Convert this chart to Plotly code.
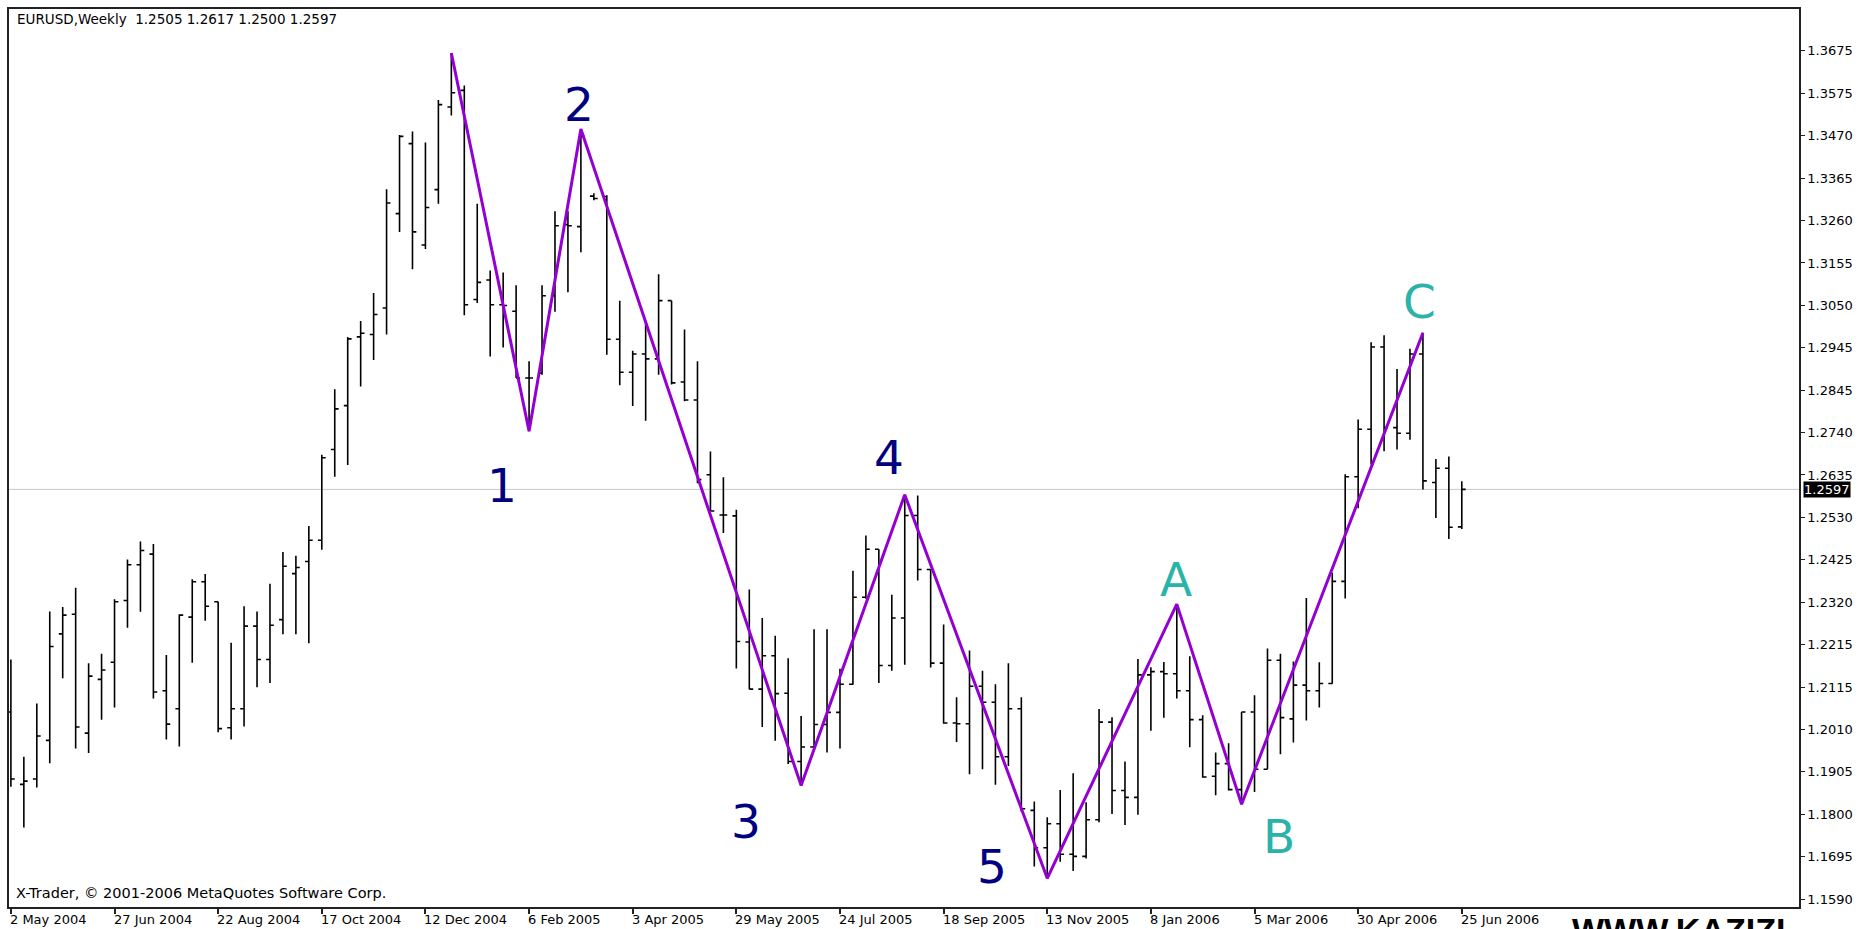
import numpy as np
import pandas as pd
import plotly.graph_objects as go

# ---------------- data ----------------
week_start = "2004-05-02"

opens = [1.2050, 1.1872, 1.1885, 1.1980, 1.2242, 1.2290, 1.1998, 1.2130, 1.2172, 1.2324,
         1.2412, 1.2438, 1.2102, 1.2058, 1.2283, 1.2370, 1.2321, 1.2011, 1.2058, 1.2261,
         1.2179, 1.2277, 1.2390, 1.2420, 1.2472, 1.2695, 1.2803, 1.2972, 1.2978, 1.3043,
         1.3275, 1.3447, 1.3198, 1.3334, 1.3537, 1.3578, 1.3064, 1.3112, 1.3051, 1.3035,
         1.2871, 1.2883, 1.3073, 1.3248, 1.3243, 1.3318, 1.3317, 1.2966, 1.2885, 1.2930,
         1.2918, 1.3061, 1.2861, 1.2817, 1.2633, 1.2534, 1.2532, 1.2222, 1.2106, 1.2188,
         1.2096, 1.1928, 1.1964, 1.2019, 1.2049, 1.2118, 1.2332, 1.2450, 1.2164, 1.2281,
         1.2533, 1.2400, 1.2170, 1.2023, 1.2021, 1.2113, 1.2074, 1.1940, 1.2058, 1.1808,
         1.1716, 1.1775, 1.1700, 1.1695, 1.1785, 1.2025, 1.1857, 1.1840, 1.2141, 1.2149,
         1.2144, 1.2102, 1.2031, 1.1892, 1.1923, 1.1859, 1.2050, 1.1909, 1.2177, 1.2033,
         1.2116, 1.2102, 1.2120, 1.2371, 1.2628, 1.2745, 1.2947, 1.2749, 1.2735, 1.2930,
         1.2614, 1.2649, 1.2505]
highs = [1.2179, 1.1940, 1.2071, 1.2297, 1.2308, 1.2355, 1.2170, 1.2193, 1.2327, 1.2425,
         1.2469, 1.2463, 1.2190, 1.2290, 1.2376, 1.2389, 1.2321, 1.2220, 1.2310, 1.2297,
         1.2365, 1.2443, 1.2434, 1.2507, 1.2682, 1.2843, 1.2972, 1.3011, 1.3080, 1.3335,
         1.3468, 1.3477, 1.3450, 1.3554, 1.3670, 1.3590, 1.3299, 1.3135, 1.3130, 1.3099,
         1.2912, 1.3099, 1.3281, 1.3281, 1.3483, 1.3325, 1.3320, 1.3061, 1.2938, 1.3010,
         1.3126, 1.3061, 1.2990, 1.2912, 1.2690, 1.2627, 1.2547, 1.2351, 1.2281, 1.2237,
         1.2182, 1.2040, 1.2253, 1.2253, 1.2156, 1.2397, 1.2484, 1.2450, 1.2338, 1.2584,
         1.2582, 1.2401, 1.2265, 1.2086, 1.2201, 1.2151, 1.2118, 1.2170, 1.2086, 1.1830,
         1.1791, 1.1858, 1.1899, 1.1828, 1.2057, 1.2037, 1.1928, 1.2180, 1.2160, 1.2173,
         1.2315, 1.2187, 1.2042, 1.1950, 1.1973, 1.2050, 1.2091, 1.2206, 1.2193, 1.2174,
         1.2330, 1.2172, 1.2392, 1.2634, 1.2769, 1.2959, 1.2976, 1.2893, 1.2943, 1.2982,
         1.2672, 1.2678, 1.2617]
lows = [1.1866, 1.1766, 1.1864, 1.1924, 1.2133, 1.1960, 1.1949, 1.2031, 1.2061, 1.2257,
        1.2296, 1.2083, 1.1982, 1.1965, 1.2171, 1.2274, 1.2000, 1.1982, 1.2014, 1.2111,
        1.2121, 1.2241, 1.2241, 1.2219, 1.2449, 1.2628, 1.2657, 1.2850, 1.2915, 1.2978,
        1.3230, 1.3138, 1.3188, 1.3299, 1.3516, 1.3025, 1.3055, 1.2924, 1.2946, 1.2871,
        1.2740, 1.2879, 1.3034, 1.3082, 1.3180, 1.3308, 1.2928, 1.2853, 1.2802, 1.2766,
        1.2879, 1.2855, 1.2814, 1.2612, 1.2544, 1.2490, 1.2157, 1.2106, 1.2013, 1.1979,
        1.1922, 1.1869, 1.1962, 1.1950, 1.1960, 1.2117, 1.2328, 1.2121, 1.2151, 1.2166,
        1.2373, 1.2159, 1.2021, 1.1976, 1.1897, 1.1909, 1.1871, 1.1917, 1.1805, 1.1670,
        1.1641, 1.1682, 1.1659, 1.1690, 1.1779, 1.1799, 1.1772, 1.1797, 1.2004, 1.2036,
        1.2083, 1.1963, 1.1888, 1.1845, 1.1857, 1.1823, 1.1853, 1.1909, 1.1946, 1.1975,
        1.2029, 1.2061, 1.2119, 1.2329, 1.2551, 1.2658, 1.2691, 1.2695, 1.2719, 1.2597,
        1.2527, 1.2475, 1.2500]
closes = [1.1885, 1.1880, 1.1991, 1.2211, 1.2288, 1.2013, 1.2138, 1.2153, 1.2321, 1.2412,
          1.2447, 1.2099, 1.2020, 1.2288, 1.2370, 1.2310, 1.2009, 1.2058, 1.2261, 1.2179,
          1.2263, 1.2408, 1.2405, 1.2472, 1.2675, 1.2795, 1.2967, 1.2981, 1.3027, 1.3301,
          1.3465, 1.3230, 1.3290, 1.3543, 1.3572, 1.3051, 1.3106, 1.3051, 1.3049, 1.2871,
          1.2871, 1.3073, 1.3245, 1.3245, 1.3465, 1.3312, 1.2966, 1.2885, 1.2930, 1.2918,
          1.3061, 1.2859, 1.2817, 1.2621, 1.2544, 1.2534, 1.2223, 1.2106, 1.2188, 1.2095,
          1.1928, 1.1964, 1.2019, 1.2049, 1.2118, 1.2332, 1.2450, 1.2164, 1.2281, 1.2533,
          1.2400, 1.2170, 1.2023, 1.2021, 1.2113, 1.2074, 1.1940, 1.2058, 1.1812, 1.1716,
          1.1775, 1.1700, 1.1695, 1.1785, 1.2025, 1.1857, 1.1840, 1.2141, 1.2149, 1.2144,
          1.2102, 1.2031, 1.1890, 1.1923, 1.1859, 1.2050, 1.1909, 1.2177, 1.2036, 1.2116,
          1.2102, 1.2120, 1.2371, 1.2628, 1.2745, 1.2947, 1.2749, 1.2735, 1.2930, 1.2618,
          1.2649, 1.2504, 1.2597]

# zigzag pivots: bar index and whether it is a high (H) or low (L)
zz_index = [34, 40, 44, 61, 69, 80, 90, 95, 109]
zz_kind = ["H", "L", "H", "L", "H", "L", "H", "L", "H"]
wave_labels = ["", "1", "2", "3", "4", "5", "A", "B", "C"]

x_tick_labels = ["2 May 2004", "27 Jun 2004", "22 Aug 2004", "17 Oct 2004", "12 Dec 2004",
                 "6 Feb 2005", "3 Apr 2005", "29 May 2005", "24 Jul 2005", "18 Sep 2005",
                 "13 Nov 2005", "8 Jan 2006", "5 Mar 2006", "30 Apr 2006", "25 Jun 2006"]
y_tick_labels = ["1.3675", "1.3575", "1.3470", "1.3365", "1.3260", "1.3155", "1.3050",
                 "1.2945", "1.2845", "1.2740", "1.2635", "1.2530", "1.2425", "1.2320",
                 "1.2215", "1.2115", "1.2010", "1.1905", "1.1800", "1.1695", "1.1590"]

symbol_title = "EURUSD,Weekly"
copyright_text = "X-Trader, © 2001-2006 MetaQuotes Software Corp."
watermark_text = "WWW.KAZIZI"

# ---------------- figure ----------------
dates = pd.date_range(week_start, periods=len(opens), freq="7D")
zz_dates = [dates[i] for i in zz_index]
zz_vals = [highs[i] if k == "H" else lows[i] for i, k in zip(zz_index, zz_kind)]

FONT = "DejaVu Sans"
AX = 13
fig = go.Figure()

fig.add_trace(go.Ohlc(
    x=dates, open=opens, high=highs, low=lows, close=closes,
    increasing=dict(line=dict(color="black", width=1.6)),
    decreasing=dict(line=dict(color="black", width=1.6)),
    tickwidth=0.3, showlegend=False, hoverinfo="skip"))

fig.add_trace(go.Scatter(
    x=zz_dates, y=zz_vals, mode="lines",
    line=dict(color="#9400D3", width=3), showlegend=False, hoverinfo="skip"))

# current price line
last_close = closes[-1]
fig.add_shape(type="line", xref="paper", x0=0, x1=1, yref="y", y0=last_close, y1=last_close,
              line=dict(color="#C8C8C8", width=1), layer="below")

annotations = []
# price box
annotations.append(dict(xref="paper", x=1, yref="y", y=last_close, xanchor="left",
                        yanchor="middle", xshift=4, text=f"{last_close:.4f}", showarrow=False,
                        bgcolor="black", borderpad=0,
                        font=dict(family=FONT, size=AX, color="white")))
# header
annotations.append(dict(xref="paper", x=0, yref="paper", y=1, xanchor="left", yanchor="middle",
                        xshift=6, yshift=-10, showarrow=False,
                        text=f"{symbol_title}\u00a0\u00a0{opens[-1]:.4f} {highs[-1]:.4f} {lows[-1]:.4f} {closes[-1]:.4f}",
                        font=dict(family=FONT, size=13.5, color="black")))
# copyright
annotations.append(dict(xref="paper", x=0, yref="paper", y=0, xanchor="left", yanchor="middle",
                        xshift=5, yshift=14, showarrow=False, text=copyright_text,
                        font=dict(family=FONT, size=14.5, color="black")))
# watermark, mostly cut off at the bottom edge (as in the reference screenshot)
annotations.append(dict(xref="paper", x=0.872, yref="paper", y=0, xanchor="left", yanchor="middle",
                        yshift=-23, showarrow=False, text=f"<b>{watermark_text}</b>",
                        font=dict(family="Liberation Sans", size=34, color="black")))
# x tick labels (left-aligned at ticks like MetaTrader)
x_tick_dates = [pd.to_datetime(s, format="%d %b %Y") for s in x_tick_labels]
for d, s in zip(x_tick_dates, x_tick_labels):
    annotations.append(dict(xref="x", x=d, yref="paper", y=0, xanchor="left", yanchor="middle",
                            xshift=-3, yshift=-12, showarrow=False, text=s,
                            font=dict(family=FONT, size=AX, color="black")))

# wave labels (offsets in px relative to pivot)
label_offsets = {"1": (-27, -54), "2": (-2, 25), "3": (-55, -36), "4": (-16, 37),
                 "5": (-55, 12), "A": (-1, 25), "B": (37, -32), "C": (-3, 31)}
for d, v, lab in zip(zz_dates, zz_vals, wave_labels):
    if not lab:
        continue
    color = "#000080" if lab.isdigit() else "#2BB3A9"
    dx, dy = label_offsets[lab]
    annotations.append(dict(xref="x", x=d, yref="y", y=v, xanchor="center", yanchor="middle",
                            xshift=dx, yshift=dy, showarrow=False, text=lab,
                            font=dict(family=FONT, size=47, color=color)))

x0 = dates[0] - pd.Timedelta(days=0.146 * 7)
x1 = dates[0] + pd.Timedelta(days=138.03 * 7)

y_ticks = np.linspace(float(y_tick_labels[0]), float(y_tick_labels[-1]), len(y_tick_labels))

fig.update_layout(
    width=1860, height=929,
    margin=dict(l=7, r=58, t=7, b=22, pad=0),
    paper_bgcolor="white", plot_bgcolor="white",
    annotations=annotations,
    xaxis=dict(range=[x0, x1], rangeslider=dict(visible=False), showgrid=False, zeroline=False,
               showline=True, linecolor="#222222", linewidth=1.5, mirror=True,
               tickmode="array", tickvals=x_tick_dates, showticklabels=False,
               ticks="outside", ticklen=5, tickcolor="#222222", tickwidth=1.5),
    yaxis=dict(range=[1.15705, 1.37780], side="right", showgrid=False, zeroline=False,
               showline=True, linecolor="#222222", linewidth=1.5, mirror=True,
               tickmode="array", tickvals=y_ticks, ticktext=y_tick_labels,
               ticks="outside", ticklen=4, tickcolor="#222222", tickwidth=1,
               tickfont=dict(family=FONT, size=AX, color="black")),
    font=dict(family=FONT),
)

fig.write_html("out.html", config={"displayModeBar": False},
               post_script="document.body.style.margin='0';document.body.style.overflow='hidden';")
